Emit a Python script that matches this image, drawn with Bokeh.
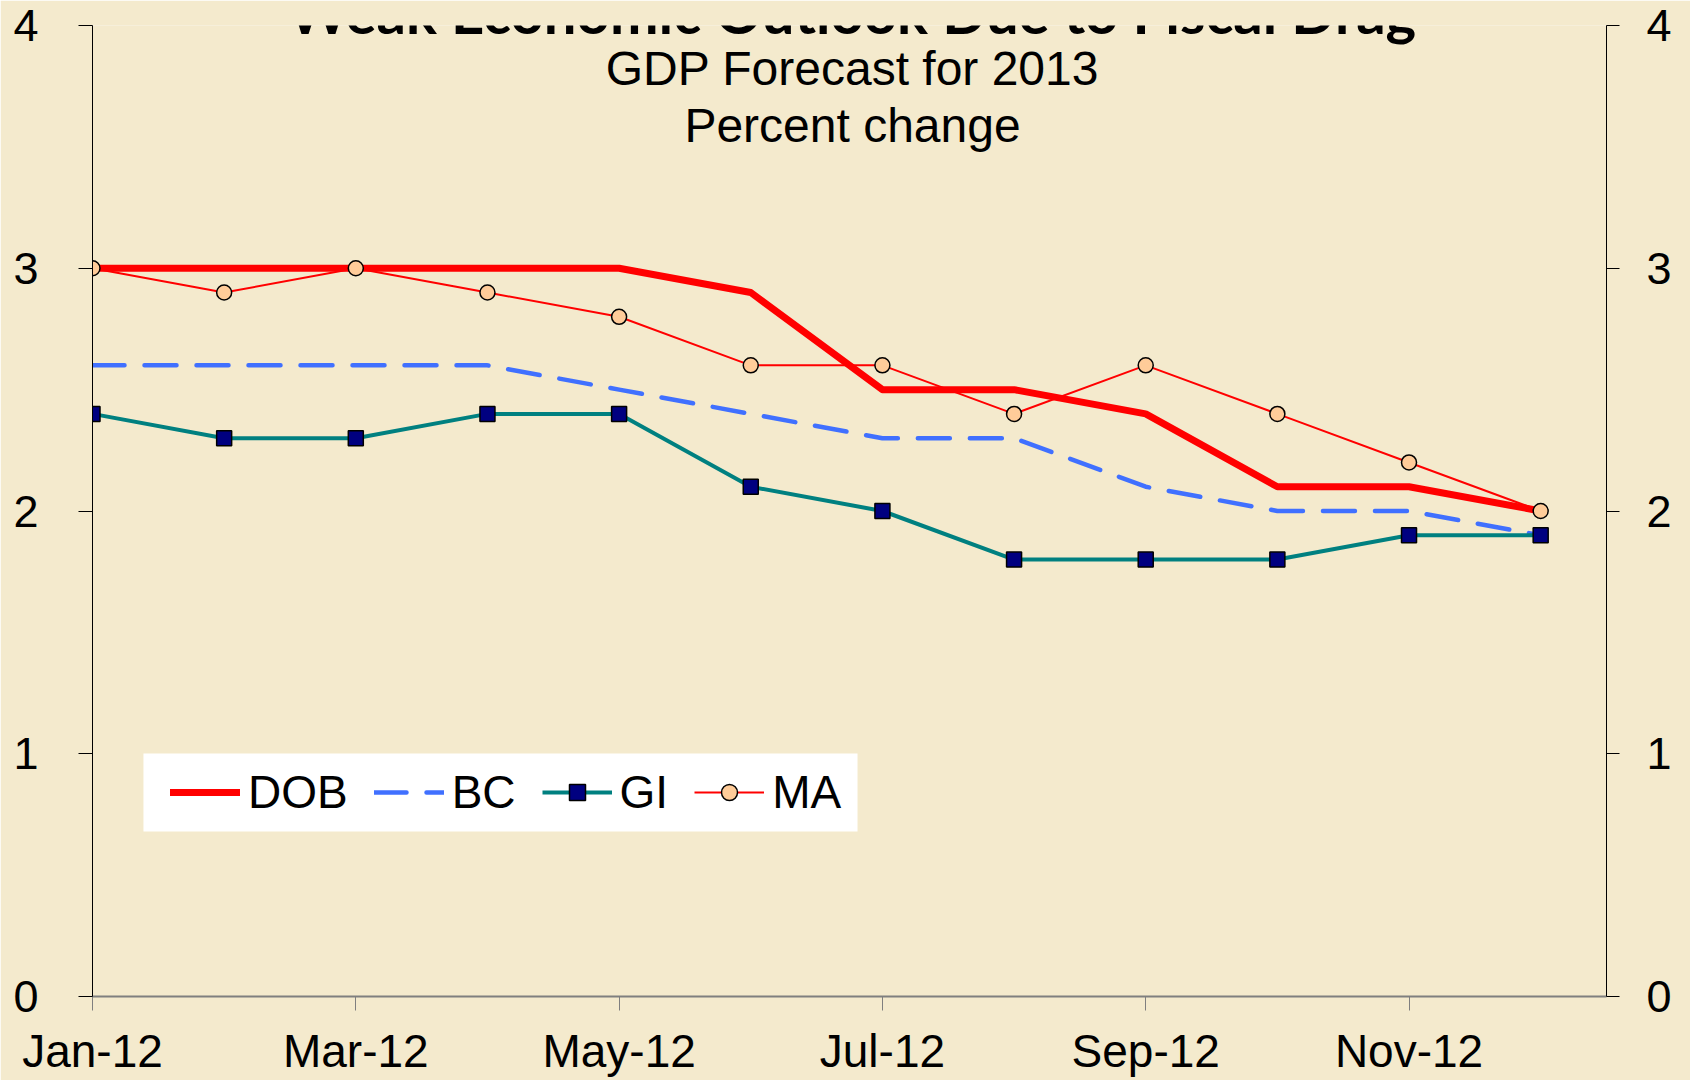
from bokeh.plotting import figure
from bokeh.models import Range1d, LinearAxis, FixedTicker, Label, Legend, LegendItem, BoxAnnotation
from bokeh.embed import file_html
from bokeh.resources import INLINE

# ---- data ----
months = ["Jan-12", "Feb-12", "Mar-12", "Apr-12", "May-12", "Jun-12",
          "Jul-12", "Aug-12", "Sep-12", "Oct-12", "Nov-12", "Dec-12"]
x_idx = list(range(len(months)))
dob = [3.0, 3.0, 3.0, 3.0, 3.0, 2.9, 2.5, 2.5, 2.4, 2.1, 2.1, 2.0]
bc = [2.6, 2.6, 2.6, 2.6, 2.5, 2.4, 2.3, 2.3, 2.1, 2.0, 2.0, 1.9]
gi = [2.4, 2.3, 2.3, 2.4, 2.4, 2.1, 2.0, 1.8, 1.8, 1.8, 1.9, 1.9]
ma = [3.0, 2.9, 3.0, 2.9, 2.8, 2.6, 2.6, 2.4, 2.6, 2.4, 2.2, 2.0]
y_ticks = [0, 1, 2, 3, 4]
x_ticks = [0, 2, 4, 6, 8, 10]
x_tick_labels = {t: months[t] for t in x_ticks}

title_text = "Weak Economic Outlook Due to Fiscal Drag"
subtitle1 = "GDP Forecast for 2013"
subtitle2 = "Percent change"

BG = "#F4EACD"
FONT = "Liberation Sans"

p = figure(width=1690, height=1080, output_backend="svg", toolbar_location=None,
           x_range=Range1d(0, 11.5), y_range=Range1d(0, 4),
           min_border_left=92, min_border_right=84, min_border_top=25, min_border_bottom=84,
           background_fill_color=BG, border_fill_color=BG, outline_line_color=None)
p.xgrid.visible = False
p.ygrid.visible = False

# x axis
xa = p.xaxis[0]
xa.ticker = FixedTicker(ticks=x_ticks)
xa.major_label_overrides = x_tick_labels
xa.axis_line_color = "#7F7F7F"
xa.axis_line_width = 2
xa.major_tick_line_color = "#7F7F7F"
xa.major_tick_line_width = 1
xa.major_tick_out = 14
xa.major_tick_in = 0
xa.minor_tick_line_color = None
xa.major_label_text_font = FONT
xa.major_label_text_font_size = "46px"
xa.major_label_text_color = "black"
xa.major_label_standoff = 14

# left y axis
ya = p.yaxis[0]
ya.ticker = FixedTicker(ticks=y_ticks)
ya.axis_line_color = "black"
ya.axis_line_width = 1
ya.major_tick_line_color = "black"
ya.major_tick_out = 14
ya.major_tick_in = 0
ya.minor_tick_line_color = None
ya.major_label_text_font = FONT
ya.major_label_text_font_size = "45px"
ya.major_label_text_color = "black"
ya.major_label_standoff = 40

# right y axis
yr = LinearAxis(ticker=FixedTicker(ticks=y_ticks))
yr.axis_line_color = "black"
yr.axis_line_width = 1
yr.major_tick_line_color = "black"
yr.major_tick_out = 13
yr.major_tick_in = 0
yr.minor_tick_line_color = None
yr.major_label_text_font = FONT
yr.major_label_text_font_size = "45px"
yr.major_label_text_color = "black"
yr.major_label_standoff = 27
p.add_layout(yr, "right")

# legend backdrop (white box)
p.add_layout(BoxAnnotation(left=0.387, right=5.811, bottom=0.680, top=1.001,
                           fill_color="white", fill_alpha=1.0, line_color=None))

# series
r_dob = p.line(x_idx, dob, line_color="#FF0000", line_width=7, line_join="round", line_cap="round")
r_bc = p.line(x_idx, bc, line_color="#4070FF", line_width=4.5, line_dash="32 20",
              line_join="round", line_cap="round")
r_gi = p.line(x_idx, gi, line_color="#008080", line_width=4, line_join="round")
r_gi_m = p.scatter(x_idx, gi, marker="square", size=15, fill_color="#000080",
                   line_color="black", line_width=1.5)
r_ma = p.line(x_idx, ma, line_color="#FF0000", line_width=2, line_join="round")
r_ma_m = p.scatter(x_idx, ma, marker="circle", size=15, fill_color="#FFCC99",
                   line_color="black", line_width=1.5)

# titles
p.add_layout(Label(x=5.77, y=4.056, text=title_text, text_font="Lato", text_font_style="bold",
                   text_font_size="58px", text_align="center", text_baseline="alphabetic",
                   text_color="black"))
p.add_layout(Label(x=5.773, y=3.823, text=subtitle1, text_font=FONT, text_font_size="48px",
                   text_align="center", text_baseline="alphabetic", text_color="black"))
p.add_layout(Label(x=5.773, y=3.588, text=subtitle2, text_font=FONT, text_font_size="48px",
                   text_align="center", text_baseline="alphabetic", text_color="black"))

legend = Legend(items=[
    LegendItem(label="DOB", renderers=[r_dob]),
    LegendItem(label="BC", renderers=[r_bc]),
    LegendItem(label="GI", renderers=[r_gi, r_gi_m]),
    LegendItem(label="MA", renderers=[r_ma, r_ma_m]),
], location=(78, 177), orientation="horizontal",
    background_fill_alpha=0.0, border_line_color=None,
    label_text_font=FONT, label_text_font_size="46px", label_text_color="black",
    label_height=46, glyph_width=70, glyph_height=40, label_standoff=8, spacing=26,
    padding=0, margin=0)
p.add_layout(legend)

open("out.html", "w").write(file_html(p, INLINE))
